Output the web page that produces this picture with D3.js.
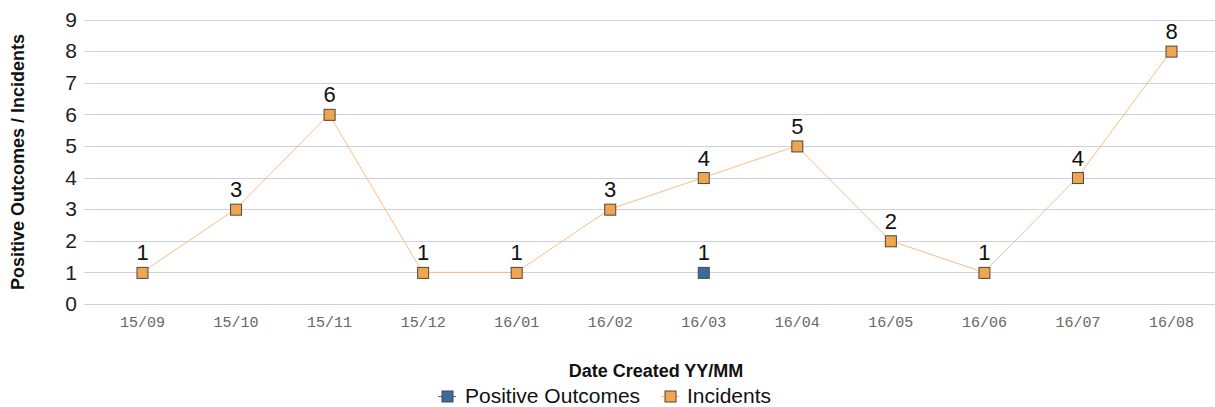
<!DOCTYPE html>
<html>
<head>
<meta charset="utf-8">
<script src="https://cdn.jsdelivr.net/npm/d3@7/dist/d3.min.js"></script>
<style>
  body { margin: 0; background: #fff; }
</style>
</head>
<body>
<svg id="chart" width="1215" height="407" font-family='"Liberation Sans", Arial, sans-serif'></svg>
<script>
// data
const months = ["15/09", "15/10", "15/11", "15/12", "16/01", "16/02", "16/03", "16/04", "16/05", "16/06", "16/07", "16/08"];
const incidents = [1, 3, 6, 1, 1, 3, 4, 5, 2, 1, 4, 8];
const positiveOutcomes = [null, null, null, null, null, null, 1, null, null, null, null, null];
const yTicks = [0, 1, 2, 3, 4, 5, 6, 7, 8, 9];

const svg = d3.select('#chart');
const width = 1215;

// scales
const x = d3.scalePoint().domain(months).range([142, 1171]);
const y = d3.scaleLinear().domain([0, 9]).range([304, 19.5]);

// gridlines
svg.append('g')
    .attr('class', 'grid')
    .selectAll('line')
    .data(yTicks)
    .join('line')
    .attr('x1', 84)
    .attr('x2', width)
    .attr('y1', d => Math.round(y(d)) + 0.5)
    .attr('y2', d => Math.round(y(d)) + 0.5)
    .attr('stroke', '#cfcfdf')
    .attr('stroke-width', 1.2);

// y axis labels
const yAxis = svg.append('g')
    .attr('transform', 'translate(77,0)')
    .call(d3.axisLeft(y).tickValues(yTicks).tickSize(0).tickPadding(0));
yAxis.select('.domain').remove();
yAxis.selectAll('text')
    .attr('font-family', '"Liberation Sans", Arial, sans-serif')
    .attr('font-size', 21)
    .attr('fill', '#222');

// x axis labels
const xAxis = svg.append('g')
    .attr('transform', 'translate(0,327)')
    .call(d3.axisBottom(x).tickSize(0).tickPadding(0));
xAxis.select('.domain').remove();
xAxis.selectAll('text')
    .attr('dy', 0)
    .attr('font-family', '"Liberation Mono", "Courier New", monospace')
    .attr('font-size', 15)
    .attr('fill', '#666');

// axis titles
svg.append('text')
    .attr('transform', 'translate(24,162) rotate(-90)')
    .attr('text-anchor', 'middle')
    .attr('font-size', 18)
    .attr('font-weight', 'bold')
    .attr('fill', '#111')
    .text('Positive Outcomes / Incidents');

svg.append('text')
    .attr('x', 656)
    .attr('y', 377)
    .attr('text-anchor', 'middle')
    .attr('font-size', 18)
    .attr('font-weight', 'bold')
    .attr('fill', '#111')
    .text('Date Created YY/MM');

const series = [
    { name: 'Positive Outcomes', values: positiveOutcomes, fill: '#3b6aa0', line: '#3b6aa0' },
    { name: 'Incidents', values: incidents, fill: '#f0a54f', line: '#f7be84' }
];

const line = d3.line()
    .defined(d => d.v != null)
    .x(d => x(d.m))
    .y(d => y(d.v));

series.forEach(s => {
    const pts = months.map((m, i) => ({ m: m, v: s.values[i] }));
    const g = svg.append('g').attr('class', 'series');
    g.append('path')
        .datum(pts)
        .attr('fill', 'none')
        .attr('stroke', s.line)
        .attr('stroke-width', 1)
        .attr('d', line);
    const valid = pts.filter(d => d.v != null);
    g.selectAll('rect')
        .data(valid)
        .join('rect')
        .attr('x', d => x(d.m) - 5)
        .attr('y', d => y(d.v) - 5)
        .attr('width', 11)
        .attr('height', 11)
        .attr('fill', s.fill)
        .attr('stroke', '#4d4540')
        .attr('stroke-width', 1);
    g.selectAll('text')
        .data(valid)
        .join('text')
        .attr('x', d => x(d.m) + 0.5)
        .attr('y', d => y(d.v) - 12)
        .attr('text-anchor', 'middle')
        .attr('font-size', 22)
        .attr('fill', '#111')
        .text(d => d.v);
});

// legend
const legend = svg.append('g').attr('transform', 'translate(0,396)');
const legendItems = [
    { name: 'Positive Outcomes', fill: '#3b6aa0', line: '#3b6aa0', x: 438 },
    { name: 'Incidents', fill: '#f0a54f', line: '#f7be84', x: 661 }
];
legendItems.forEach(d => {
    const g = legend.append('g').attr('transform', 'translate(' + d.x + ',0)');
    g.append('line')
        .attr('x1', 0).attr('x2', 18)
        .attr('y1', 0.5).attr('y2', 0.5)
        .attr('stroke', d.line);
    g.append('rect')
        .attr('x', 4).attr('y', -5)
        .attr('width', 11).attr('height', 11)
        .attr('fill', d.fill)
        .attr('stroke', '#4d4540');
    g.append('text')
        .attr('x', d.name === 'Incidents' ? 26 : 27)
        .attr('y', 7)
        .attr('font-size', 21)
        .attr('fill', '#111')
        .text(d.name);
});
</script>
</body>
</html>
